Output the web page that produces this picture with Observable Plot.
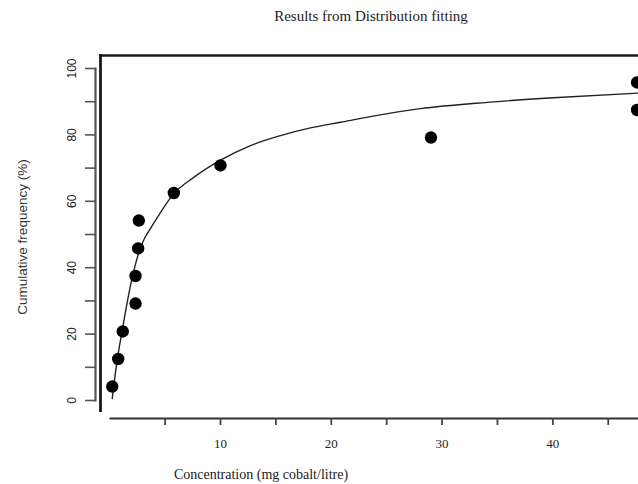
<!DOCTYPE html>
<html>
<head>
<meta charset="utf-8">
<script src="https://cdn.jsdelivr.net/npm/d3@7"></script>
<script src="https://cdn.jsdelivr.net/npm/@observablehq/plot@0.6"></script>
<style>
  html, body { margin: 0; padding: 0; background: #fff; }
</style>
</head>
<body>
<div id="chart"></div>
<script>
// Observed data points (empirical cumulative frequency)
const concentration = [0.23, 0.77, 1.18, 2.33, 2.33, 2.57, 2.63, 5.79, 10.0, 29.0, 47.6, 47.6];
const cumFreq = [4.2, 12.5, 20.8, 29.2, 37.5, 45.8, 54.2, 62.5, 70.8, 79.2, 95.8, 87.5];

// Fitted distribution curve
const curveX = [0.23, 0.68, 1.13, 1.56, 2.01, 2.42, 2.82, 3.23, 3.68, 4.58, 5.71, 7.59, 10.0, 12.71, 15.42, 18.12, 20.83, 23.53, 28.05, 34.07, 40.05, 47.73];
const curveY = [0.6, 12.3, 21.1, 29.2, 36.7, 42.2, 46.4, 49.4, 51.8, 56.6, 62.0, 67.2, 72.4, 76.8, 79.8, 82.1, 83.8, 85.5, 87.9, 89.8, 91.2, 92.6];

// Axis ticks
const xTicks = [5, 10, 15, 20, 25, 30, 35, 40, 45];
const xTickLabels = ["", "10", "", "20", "", "30", "", "40", ""];
const yTicks = [0, 10, 20, 30, 40, 50, 60, 70, 80, 90, 100];
const yTickLabels = ["0", "", "20", "", "40", "", "60", "", "80", "", "100"];

const title = "Results from Distribution fitting";
const xLabel = "Concentration (mg cobalt/litre)";
const yLabel = "Cumulative frequency (%)";

const points = concentration.map((c, i) => ({x: c, y: cumFreq[i]}));
const curve = curveX.map((c, i) => ({x: c, y: curveY[i]}));

const serif = "'Liberation Serif', 'DejaVu Serif', serif";
const sans = "'Liberation Sans', Arial, sans-serif";

const chart = Plot.plot({
  width: 638,
  height: 484,
  marginLeft: 95,
  marginRight: 0,
  marginTop: 55,
  marginBottom: 66,
  style: {background: "#fff", color: "#111", fontFamily: sans},
  x: {domain: [0, 47.73], insetLeft: 14.2},
  y: {domain: [0, 100], insetTop: 13, insetBottom: 18},
  marks: [
    // plot box (top and left edges)
    Plot.frame({anchor: "top", insetLeft: 5, stroke: "#1a1a1a", strokeWidth: 2.6}),
    Plot.frame({anchor: "left", insetLeft: 5, insetBottom: 8, stroke: "#1a1a1a", strokeWidth: 2.8}),
    // axis lines
    Plot.frame({anchor: "left", insetTop: 13, insetBottom: 18, stroke: "#555", strokeWidth: 2.2}),
    Plot.frame({anchor: "bottom", insetLeft: 15, stroke: "#333", strokeWidth: 2}),
    Plot.axisY({
      ticks: yTicks,
      tickFormat: (d) => yTickLabels[yTicks.indexOf(d)],
      tickSize: 10,
      tickPadding: 10,
      tickRotate: -90,
      stroke: "#555",
      strokeWidth: 1.6,
      fontSize: 12,
      fontFamily: sans,
      fill: "#222",
      label: null
    }),
    Plot.axisX({
      ticks: xTicks,
      tickFormat: (d) => xTickLabels[xTicks.indexOf(d)],
      tickSize: 7,
      tickPadding: 13,
      stroke: "#444",
      strokeWidth: 1.8,
      fontSize: 13,
      fontFamily: serif,
      fill: "#222",
      label: null
    }),
    Plot.line(curve, {x: "x", y: "y", curve: "monotone-x", stroke: "#222", strokeWidth: 1.4}),
    Plot.dot(points, {x: "x", y: "y", r: 6.2, fill: "#000", stroke: "none"}),
    Plot.text([title], {text: (d) => d, frameAnchor: "top", textAnchor: "middle", dx: 4, dy: -35, lineAnchor: "bottom", fontFamily: serif, fontSize: 15, fill: "#222"}),
    Plot.text([xLabel], {text: (d) => d, frameAnchor: "bottom", textAnchor: "middle", dx: -106, dy: 60, lineAnchor: "bottom", fontFamily: serif, fontSize: 14, fill: "#222"}),
    Plot.text([yLabel], {text: (d) => d, frameAnchor: "left", textAnchor: "middle", dx: -73, rotate: -90, lineAnchor: "middle", fontFamily: sans, fontSize: 13.5, fill: "#333"})
  ]
});

document.getElementById("chart").appendChild(chart);
</script>
</body>
</html>
